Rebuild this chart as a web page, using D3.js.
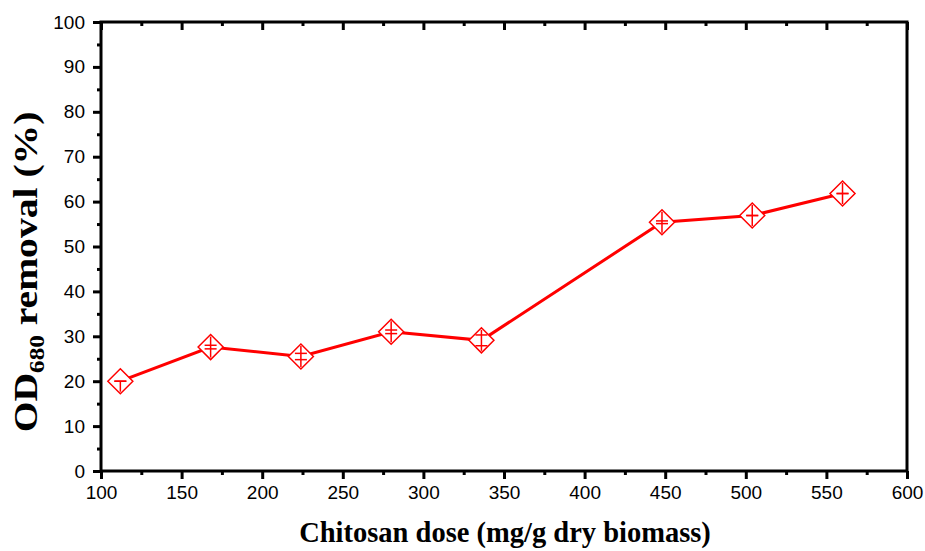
<!DOCTYPE html>
<html>
<head>
<meta charset="utf-8">
<script src="https://cdn.jsdelivr.net/npm/d3@7"></script>
<style>
  body { margin: 0; background: #fff; }
  .tick text { font-family: Arial, "Liberation Sans", sans-serif; font-size: 19px; fill: #000; }
  .axis-title { font-family: "Times New Roman", "Liberation Serif", serif; font-weight: bold; fill: #000; }
</style>
</head>
<body>
<div id="chart"></div>
<script>
const doses = [112, 168, 224, 280, 336, 448, 504, 560];
const removal = [20.0, 27.6, 25.5, 31.0, 29.1, 55.4, 56.9, 61.8];
const errBar = [0.0, 0.4, 0.7, 0.4, 1.2, 0.3, 0.0, 0.0];
const xTicks = [100, 150, 200, 250, 300, 350, 400, 450, 500, 550, 600];
const yTicks = [0, 10, 20, 30, 40, 50, 60, 70, 80, 90, 100];

const margin = { top: 22, right: 18, bottom: 80, left: 101 };
const W = 925, H = 551;
const width = W - margin.left - margin.right;
const height = H - margin.top - margin.bottom;

const svg = d3.select("#chart").append("svg")
  .attr("width", W).attr("height", H);

const g = svg.append("g")
  .attr("transform", `translate(${margin.left},${margin.top})`);

const x = d3.scaleLinear().domain([100, 600]).range([0, width]);
const y = d3.scaleLinear().domain([0, 100]).range([height, 0]);

const xMinor = d3.range(125, 600, 50);
const yMinor = d3.range(5, 100, 10);

// bottom axis
g.append("g").attr("transform", `translate(0,${height})`)
  .call(d3.axisBottom(x).tickValues(xTicks).tickSize(8).tickPadding(7));
g.append("g").attr("transform", `translate(0,${height})`)
  .call(d3.axisBottom(x).tickValues(xMinor).tickSize(4).tickFormat(""));
// left axis
g.append("g")
  .call(d3.axisLeft(y).tickValues(yTicks).tickSize(8).tickPadding(8));
g.append("g")
  .call(d3.axisLeft(y).tickValues(yMinor).tickSize(4).tickFormat(""));
// top axis, ticks pointing inward
g.append("g")
  .call(d3.axisTop(x).tickValues(xTicks).tickSize(-8).tickFormat(""));
g.append("g")
  .call(d3.axisTop(x).tickValues(xMinor).tickSize(-4).tickFormat(""));

g.selectAll(".domain").remove();
g.selectAll(".tick line").attr("stroke", "#000").attr("stroke-width", 3);

g.append("rect")
  .attr("width", width).attr("height", height)
  .attr("fill", "none").attr("stroke", "#000").attr("stroke-width", 3);

const data = doses.map((d, i) => ({ x: d, y: removal[i], e: errBar[i] }));

g.append("path")
  .datum(data)
  .attr("fill", "none")
  .attr("stroke", "#ff0000")
  .attr("stroke-width", 3)
  .attr("d", d3.line().x(d => x(d.x)).y(d => y(d.y)));

const r = 12.5;
const pts = g.selectAll(".pt").data(data).enter().append("g")
  .attr("transform", d => `translate(${x(d.x)},${y(d.y)})`);

pts.append("path")
  .attr("d", `M0,${-r}L${r},0L0,${r}L${-r},0Z`)
  .attr("fill", "#fff")
  .attr("stroke", "#ff0000")
  .attr("stroke-width", 1.5);

// error bars: stem through the marker, caps at +/- error
pts.append("line")
  .attr("x1", 0).attr("x2", 0)
  .attr("y1", (d, i) => i === 0 ? 0 : -r + 2)
  .attr("y2", r - 2)
  .attr("stroke", "#ff0000").attr("stroke-width", 1.5);
pts.selectAll(".cap").data(d => [d.e, -d.e]).enter().append("line")
  .attr("x1", -6).attr("x2", 6)
  .attr("y1", e => y(e) - y(0))
  .attr("y2", e => y(e) - y(0))
  .attr("stroke", "#ff0000").attr("stroke-width", 1.5);

// axis titles
svg.append("text")
  .attr("class", "axis-title")
  .attr("font-size", 28.5)
  .attr("x", 505)
  .attr("y", 542)
  .attr("text-anchor", "middle")
  .text("Chitosan dose (mg/g dry biomass)");

const yt = svg.append("text")
  .attr("class", "axis-title")
  .attr("font-size", 33)
  .attr("transform", "translate(37,272) rotate(-90) scale(1.2,1)")
  .attr("text-anchor", "middle");
yt.append("tspan").text("OD");
yt.append("tspan").attr("font-size", 21).attr("dy", 7).text("680");
yt.append("tspan").attr("dy", -7).text(" removal (%)");
</script>
</body>
</html>
